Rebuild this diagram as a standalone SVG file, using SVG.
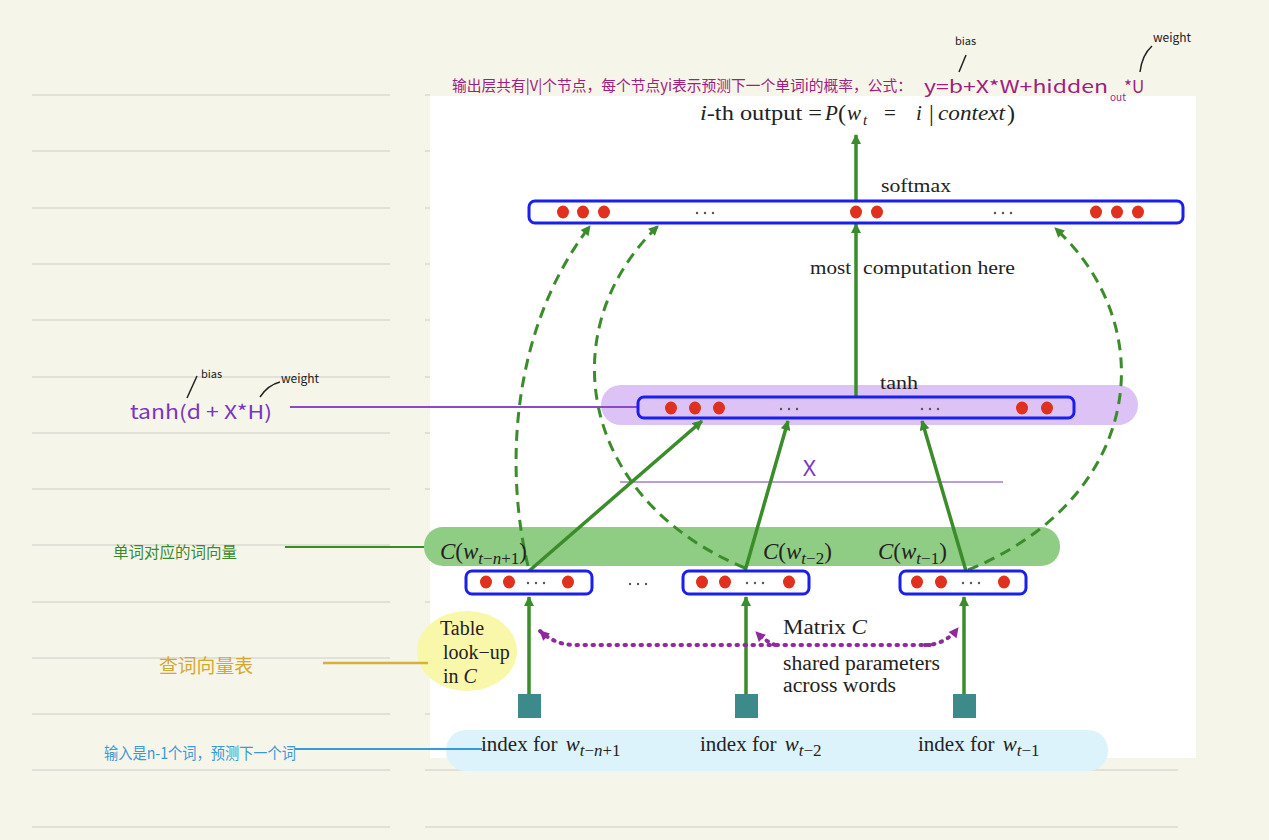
<svg xmlns="http://www.w3.org/2000/svg" width="1269" height="840" viewBox="0 0 1269 840">
<defs>
<style>
.rule{stroke:#e1e1d8;stroke-width:2}
.box{fill:#fff;stroke:#1a1ff0;stroke-width:3}
.dot{fill:#e0301e}
.ell{fill:#555}
.serif{font-family:"Liberation Serif","Times New Roman",serif;fill:#222}
.arr{stroke:#3b8c2a;stroke-width:3.5;fill:none;marker-end:url(#ga)}
.dash{stroke:#3b8c2a;stroke-width:3;fill:none;stroke-dasharray:11 7;marker-end:url(#ga)}
.dotted{stroke:#8e2a9e;stroke-width:4;fill:none;stroke-dasharray:1.5 6.5;stroke-linecap:round}
.hand{font-family:"Noto Sans CJK SC","Noto Sans",sans-serif}
.tick{stroke:#222;stroke-width:1.5;fill:none}
</style>
<marker id="ga" viewBox="0 0 10 10" markerWidth="11" markerHeight="10" refX="9" refY="5" orient="auto" markerUnits="userSpaceOnUse"><path d="M0,0 L10,5 L0,10 z" fill="#3b8c2a"/></marker>
<marker id="pa" viewBox="0 0 10 10" markerWidth="12" markerHeight="10" refX="9" refY="5" orient="auto" markerUnits="userSpaceOnUse"><path d="M0,0 L10,5 L0,10 z" fill="#8e2a9e"/></marker>
</defs>

<rect x="0" y="0" width="1269" height="840" fill="#f5f5ea"/>
<g id="rules">
<path class="rule" d="M32 95H390M425 95H430M32 151H390M425 151H430M32 208H390M425 208H430M32 264H390M425 264H430M32 320H390M425 320H430M32 377H390M425 377H430M32 433H390M425 433H430M32 489H390M425 489H430M32 545H390M425 545H430M32 602H390M425 602H430M32 658H390M425 658H430M32 714H390M425 714H430M32 770H390M425 770H1178M32 827H390M425 827H1178"/>
</g>
<rect x="430" y="96" width="766" height="662" fill="#ffffff"/>

<!-- background bands -->
<g id="tanh-band"><rect x="601" y="385" width="537" height="40" rx="20" fill="#dcc2f5"/></g>
<g id="c-band"><rect x="424" y="527" width="636" height="39" rx="19" fill="#90cd84"/></g>
<g id="lookup-blob"><ellipse cx="467" cy="651" rx="50" ry="40" fill="#f9f7aa"/></g>
<g id="index-band"><rect x="446" y="730" width="662" height="41" rx="20" fill="#ddf3fb"/></g>

<!-- annotation lines -->
<g id="annotation-lines">
<line x1="290" y1="407" x2="638" y2="407" stroke="#8a4ac8" stroke-width="2"/>
<line x1="620" y1="482" x2="1003" y2="482" stroke="#a57ad6" stroke-width="1.5"/>
<line x1="285" y1="547" x2="424" y2="547" stroke="#3a8a2a" stroke-width="2"/>
<line x1="323" y1="663" x2="428" y2="663" stroke="#d8b040" stroke-width="2.5"/>
<line x1="295" y1="749" x2="482" y2="749" stroke="#3a9ad6" stroke-width="2"/>
</g>

<!-- connectors -->
<g id="connectors">
<path class="arr" d="M856 200V135"/>
<path class="arr" d="M856 398V224"/>
<path class="arr" d="M529 571L702 421"/>
<path class="arr" d="M745 571L788 421"/>
<path class="arr" d="M966 571L922 421"/>
<path class="arr" d="M529 694V597"/>
<path class="arr" d="M746 694V597"/>
<path class="arr" d="M964 694V597"/>
<path class="dash" d="M528 566C505 470 510 330 590 226"/>
<path class="dash" d="M745 568C580 500 550 330 658 226"/>
<path class="dash" d="M968 570C1140 500 1165 330 1055 228"/>
<path class="dotted" d="M930 645H575Q555 645 540 631" marker-end="url(#pa)"/>
<path class="dotted" d="M775 645Q765 641 756 632" marker-end="url(#pa)"/>
<path class="dotted" d="M925 645Q945 645 958 628" marker-end="url(#pa)"/>
</g>

<!-- softmax layer -->
<g id="softmax">
<rect class="box" x="529" y="201" width="654" height="22" rx="6"/>
<ellipse class="dot" cx="563" cy="212" rx="6" ry="6.5"/><ellipse class="dot" cx="583" cy="212" rx="6" ry="6.5"/><ellipse class="dot" cx="604" cy="212" rx="6" ry="6.5"/>
<ellipse class="dot" cx="856" cy="212" rx="6" ry="6.5"/><ellipse class="dot" cx="877" cy="212" rx="6" ry="6.5"/>
<ellipse class="dot" cx="1096" cy="212" rx="6" ry="6.5"/><ellipse class="dot" cx="1117" cy="212" rx="6" ry="6.5"/><ellipse class="dot" cx="1138" cy="212" rx="6" ry="6.5"/>
<circle class="ell" cx="697" cy="213" r="1.2"/><circle class="ell" cx="705" cy="213" r="1.2"/><circle class="ell" cx="713" cy="213" r="1.2"/>
<circle class="ell" cx="995" cy="213" r="1.2"/><circle class="ell" cx="1003" cy="213" r="1.2"/><circle class="ell" cx="1011" cy="213" r="1.2"/>
<text class="serif" x="881" y="192" font-size="18" textLength="70" lengthAdjust="spacingAndGlyphs">softmax</text>
</g>

<!-- tanh layer -->
<g id="tanh">
<rect class="box" x="638" y="397" width="436" height="21" rx="6" style="fill:none"/>
<ellipse class="dot" cx="671" cy="408" rx="6" ry="6.5"/><ellipse class="dot" cx="695" cy="408" rx="6" ry="6.5"/><ellipse class="dot" cx="719" cy="408" rx="6" ry="6.5"/>
<ellipse class="dot" cx="1022" cy="408" rx="6" ry="6.5"/><ellipse class="dot" cx="1047" cy="408" rx="6" ry="6.5"/>
<circle class="ell" cx="781" cy="409" r="1.2"/><circle class="ell" cx="789" cy="409" r="1.2"/><circle class="ell" cx="797" cy="409" r="1.2"/>
<circle class="ell" cx="922" cy="409" r="1.2"/><circle class="ell" cx="930" cy="409" r="1.2"/><circle class="ell" cx="938" cy="409" r="1.2"/>
<text class="serif" x="880" y="389" font-size="18" textLength="38" lengthAdjust="spacingAndGlyphs">tanh</text>
</g>

<!-- word feature boxes -->
<g id="feature1">
<rect class="box" x="466" y="571" width="126" height="23" rx="6"/>
<ellipse class="dot" cx="486" cy="582" rx="6" ry="6.5"/><ellipse class="dot" cx="509" cy="582" rx="6" ry="6.5"/><ellipse class="dot" cx="568" cy="582" rx="6" ry="6.5"/>
<circle class="ell" cx="528" cy="583" r="1.2"/><circle class="ell" cx="536" cy="583" r="1.2"/><circle class="ell" cx="544" cy="583" r="1.2"/>
</g>
<g id="feature2">
<rect class="box" x="683" y="571" width="126" height="23" rx="6"/>
<ellipse class="dot" cx="702" cy="582" rx="6" ry="6.5"/><ellipse class="dot" cx="725" cy="582" rx="6" ry="6.5"/><ellipse class="dot" cx="789" cy="582" rx="6" ry="6.5"/>
<circle class="ell" cx="747" cy="583" r="1.2"/><circle class="ell" cx="755" cy="583" r="1.2"/><circle class="ell" cx="763" cy="583" r="1.2"/>
</g>
<g id="feature3">
<rect class="box" x="900" y="571" width="126" height="23" rx="6"/>
<ellipse class="dot" cx="917" cy="582" rx="6" ry="6.5"/><ellipse class="dot" cx="941" cy="582" rx="6" ry="6.5"/><ellipse class="dot" cx="1004" cy="582" rx="6" ry="6.5"/>
<circle class="ell" cx="963" cy="583" r="1.2"/><circle class="ell" cx="971" cy="583" r="1.2"/><circle class="ell" cx="979" cy="583" r="1.2"/>
</g>
<g id="between-dots">
<circle class="ell" cx="630" cy="584" r="1.2"/><circle class="ell" cx="638" cy="584" r="1.2"/><circle class="ell" cx="646" cy="584" r="1.2"/>
</g>

<!-- C labels -->
<g id="c-labels" class="serif" font-size="23">
<text x="440" y="559"><tspan font-style="italic">C</tspan>(<tspan font-style="italic">w</tspan><tspan font-style="italic" font-size="17" dy="5">t</tspan><tspan font-size="17">−</tspan><tspan font-style="italic" font-size="17">n</tspan><tspan font-size="17">+1</tspan><tspan dy="-5">)</tspan></text>
<text x="763" y="559"><tspan font-style="italic">C</tspan>(<tspan font-style="italic">w</tspan><tspan font-style="italic" font-size="17" dy="5">t</tspan><tspan font-size="17">−2</tspan><tspan dy="-5">)</tspan></text>
<text x="878" y="559"><tspan font-style="italic">C</tspan>(<tspan font-style="italic">w</tspan><tspan font-style="italic" font-size="17" dy="5">t</tspan><tspan font-size="17">−1</tspan><tspan dy="-5">)</tspan></text>
</g>

<!-- index squares -->
<g id="index1"><rect x="518" y="694" width="23" height="24" fill="#3d8a8a"/></g>
<g id="index2"><rect x="735" y="694" width="23" height="24" fill="#3d8a8a"/></g>
<g id="index3"><rect x="953" y="694" width="23" height="24" fill="#3d8a8a"/></g>

<!-- texts in diagram -->
<g id="title" class="serif" font-size="21">
<text x="700" y="120" textLength="122" lengthAdjust="spacingAndGlyphs"><tspan font-style="italic">i</tspan>-th output =</text>
<text x="825" y="120" font-style="italic">P</text>
<text x="838" y="121" font-size="24">(</text>
<text x="847" y="120" font-style="italic">w</text>
<text x="863" y="125" font-style="italic" font-size="15">t</text>
<text x="884" y="120">=</text>
<text x="916" y="120" font-style="italic">i</text>
<text x="929" y="121" font-size="24">|</text>
<text x="938" y="120" font-style="italic" textLength="67" lengthAdjust="spacingAndGlyphs">context</text>
<text x="1007" y="121" font-size="24">)</text>
</g>
<g id="most-computation" class="serif" font-size="19">
<text x="810" y="274" textLength="41" lengthAdjust="spacingAndGlyphs">most</text>
<text x="863" y="274" textLength="152" lengthAdjust="spacingAndGlyphs">computation here</text>
</g>
<g id="lookup-label" class="serif" font-size="20">
<text x="440" y="635">Table</text>
<text x="443" y="659">look−up</text>
<text x="443" y="683">in <tspan font-style="italic">C</tspan></text>
</g>
<g id="matrix-label" class="serif" font-size="20">
<text x="783" y="634" textLength="84" lengthAdjust="spacingAndGlyphs">Matrix <tspan font-style="italic">C</tspan></text>
<text x="783" y="670" textLength="157" lengthAdjust="spacingAndGlyphs">shared parameters</text>
<text x="783" y="692" textLength="113" lengthAdjust="spacingAndGlyphs">across words</text>
</g>
<g id="index-labels" class="serif" font-size="21">
<text x="481" y="751">index for <tspan font-style="italic" dx="3">w</tspan><tspan font-style="italic" font-size="17" dy="5">t</tspan><tspan font-size="17">−</tspan><tspan font-style="italic" font-size="17">n</tspan><tspan font-size="17">+1</tspan></text>
<text x="700" y="751">index for <tspan font-style="italic" dx="3">w</tspan><tspan font-style="italic" font-size="17" dy="5">t</tspan><tspan font-size="17">−2</tspan></text>
<text x="918" y="751">index for <tspan font-style="italic" dx="3">w</tspan><tspan font-style="italic" font-size="17" dy="5">t</tspan><tspan font-size="17">−1</tspan></text>
</g>
<g id="x-label"><text x="803" y="476" font-family="'Noto Sans',sans-serif" font-size="22" fill="#7b35c0">X</text></g>

<!-- handwritten annotations -->
<g id="note-output">
<text class="hand" x="452" y="91" font-size="15" fill="#a01e80" textLength="460" lengthAdjust="spacingAndGlyphs">输出层共有|V|个节点，每个节点yi表示预测下一个单词i的概率，公式：</text>
<text class="hand" x="924" y="93" font-size="17" fill="#a01e80" textLength="184" lengthAdjust="spacingAndGlyphs">y=b+X*W+hidden</text>
<text class="hand" x="1110" y="101" font-size="10" fill="#a01e80">out</text>
<text class="hand" x="1124" y="93" font-size="17" fill="#a01e80">*U</text>
<text class="hand" x="955" y="45" font-size="11" fill="#222">bias</text>
<path class="tick" d="M959 72L966 55"/>
<text class="hand" x="1153" y="42" font-size="12" fill="#222">weight</text>
<path class="tick" d="M1140 72Q1142 55 1152 46"/>
</g>
<g id="note-tanh">
<text class="hand" x="130" y="419" font-size="19" fill="#7b35c0" textLength="142" lengthAdjust="spacingAndGlyphs">tanh(d + X*H)</text>
<text class="hand" x="201" y="378" font-size="11" fill="#222">bias</text>
<path class="tick" d="M187 398L197 376"/>
<text class="hand" x="281" y="383" font-size="12" fill="#222">weight</text>
<path class="tick" d="M260 397Q268 385 280 382"/>
</g>
<g id="note-wordvec"><text class="hand" x="113" y="558" font-size="16" fill="#3a8a2a" textLength="124" lengthAdjust="spacingAndGlyphs">单词对应的词向量</text></g>
<g id="note-lookup"><text class="hand" x="159" y="673" font-size="19" fill="#d4a830" textLength="94" lengthAdjust="spacingAndGlyphs">查词向量表</text></g>
<g id="note-input"><text class="hand" x="104" y="759" font-size="16" fill="#3a9ad6" textLength="192" lengthAdjust="spacingAndGlyphs">输入是n-1个词，预测下一个词</text></g>
</svg>
